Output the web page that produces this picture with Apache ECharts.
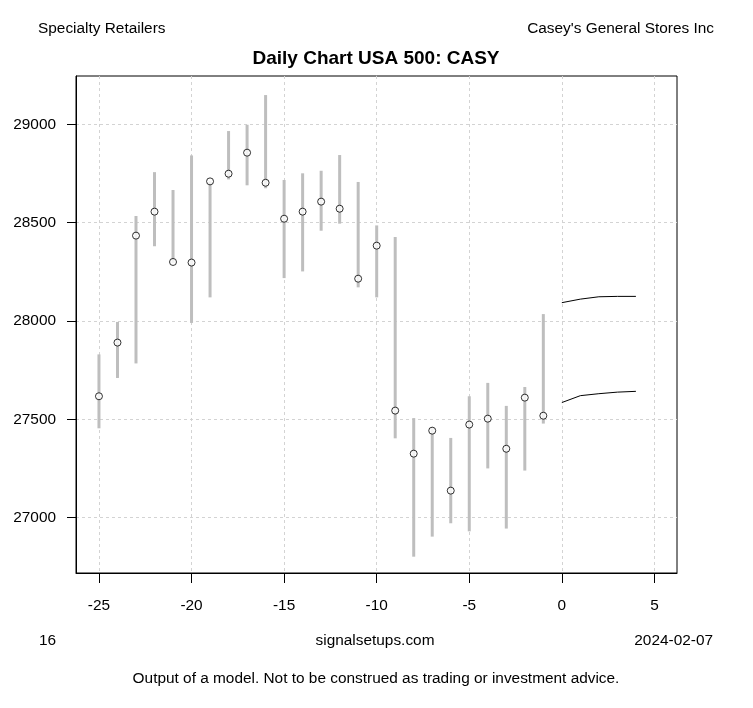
<!DOCTYPE html>
<html lang="en">
<head>
    <meta charset="UTF-8">
    <title>Daily Chart USA 500: CASY</title>
    <script src="https://cdn.jsdelivr.net/npm/echarts@6/dist/echarts.min.js"></script>
    <style>
        html, body { margin: 0; padding: 0; background: #fff; }
        #chart { width: 753px; height: 708px; }
    </style>
</head>
<body>
    <div id="chart"></div>
    <script type="text/javascript">
        // days before the report date
        var days = [-25, -24, -23, -22, -21, -20, -19, -18, -17, -16, -15, -14, -13,
            -12, -11, -10, -9, -8, -7, -6, -5, -4, -3, -2, -1];
        var highs = [27830, 27995, 28534, 28757, 28666, 28842, 28710, 28966, 28998, 29149,
            28717, 28751, 28764, 28844, 28707, 28486, 28427, 27506, 27460, 27405,
            27617, 27685, 27568, 27664, 28035];
        var lows = [27454, 27710, 27784, 28380, 28295, 27990, 28120, 28720, 28690, 28675,
            28218, 28252, 28459, 28495, 28171, 28120, 27403, 26801, 26903, 26971,
            26930, 27250, 26944, 27239, 27478];
        var closes = [27617, 27890, 28434, 28556, 28300, 28297, 28710, 28749, 28856, 28703,
            28520, 28556, 28607, 28571, 28215, 28383, 27544, 27325, 27442, 27137,
            27473, 27503, 27350, 27610, 27518];

        // model projection
        var fcDays = [0, 1, 2, 3, 4];
        var fcUpper = [28093, 28111, 28123, 28125, 28125];
        var fcLower = [27585, 27620, 27630, 27638, 27642];

        var xTicks = [-25, -20, -15, -10, -5, 0, 5];
        var yTicks = [27000, 27500, 28000, 28500, 29000];

        var font = "'Liberation Sans', Arial, sans-serif";
        var txt = '15.4px ' + font;

        var ranges = days.map(function (d, i) { return [d, highs[i], lows[i]]; });
        var points = days.map(function (d, i) { return [d, closes[i]]; });
        var upper = fcDays.map(function (d, i) { return [d, fcUpper[i]]; });
        var lower = fcDays.map(function (d, i) { return [d, fcLower[i]]; });

        function gridLine() {
            return { show: true, lineStyle: { color: '#d3d3d3', type: [3, 3], width: 1 } };
        }
        function axisCfg(ticks, tickLen, margin) {
            return {
                axisLine: { show: true, onZero: false, lineStyle: { color: '#000', width: 1 } },
                axisTick: { show: true, length: tickLen, customValues: ticks,
                    lineStyle: { color: '#000', width: 1 } },
                axisLabel: { show: true, customValues: ticks, margin: margin,
                    color: '#000', fontSize: 15.4, fontFamily: font,
                    formatter: function (v) { return String(v); } },
                splitLine: gridLine()
            };
        }

        function label(text, x, y, align, f) {
            return {
                type: 'text', x: x, y: y,
                style: { text: text, font: f || txt, fill: '#000',
                    textAlign: align, textVerticalAlign: 'middle' }
            };
        }

        var xAxis = axisCfg(xTicks, 10, 25);
        xAxis.type = 'value';
        xAxis.min = -26.24;
        xAxis.max = 6.22;

        var yAxis = axisCfg(yTicks, 9, 20);
        yAxis.type = 'value';
        yAxis.min = 26718;
        yAxis.max = 29246;

        var myChart = echarts.init(document.getElementById('chart'));
        var option = {
            animation: false,
            backgroundColor: '#fff',
            textStyle: { fontFamily: font },
            grid: {
                left: 76, top: 76, right: 76, bottom: 135,
                show: true, borderColor: '#000', borderWidth: 1,
                backgroundColor: 'transparent'
            },
            xAxis: xAxis,
            yAxis: yAxis,
            graphic: [
                label('Specialty Retailers', 38, 29, 'left'),
                label("Casey's General Stores Inc", 714, 29, 'right'),
                label('Daily Chart USA 500: CASY', 376, 59, 'center', 'bold 19px ' + font),
                label('16', 39, 641, 'left'),
                label('signalsetups.com', 375, 641, 'center'),
                label('2024-02-07', 713, 641, 'right'),
                label('Output of a model. Not to be construed as trading or investment advice.', 376, 679, 'center')
            ],
            series: [
                {
                    name: 'range',
                    type: 'custom',
                    data: ranges,
                    encode: { x: 0, y: [1, 2] },
                    renderItem: function (params, api) {
                        var top = api.coord([api.value(0), api.value(1)]);
                        var bot = api.coord([api.value(0), api.value(2)]);
                        return {
                            type: 'line',
                            shape: { x1: top[0], y1: top[1], x2: bot[0], y2: bot[1] },
                            style: { stroke: '#bebebe', lineWidth: 3 }
                        };
                    },
                    z: 2
                },
                {
                    name: 'close',
                    type: 'scatter',
                    data: points,
                    symbol: 'circle',
                    symbolSize: 7,
                    itemStyle: { color: '#fff', borderColor: '#000', borderWidth: 1 },
                    z: 3
                },
                {
                    name: 'upper',
                    type: 'line',
                    data: upper,
                    showSymbol: false,
                    lineStyle: { color: '#000', width: 1 },
                    z: 3
                },
                {
                    name: 'lower',
                    type: 'line',
                    data: lower,
                    showSymbol: false,
                    lineStyle: { color: '#000', width: 1 },
                    z: 3
                }
            ]
        };
        myChart.setOption(option);
    </script>
</body>
</html>
